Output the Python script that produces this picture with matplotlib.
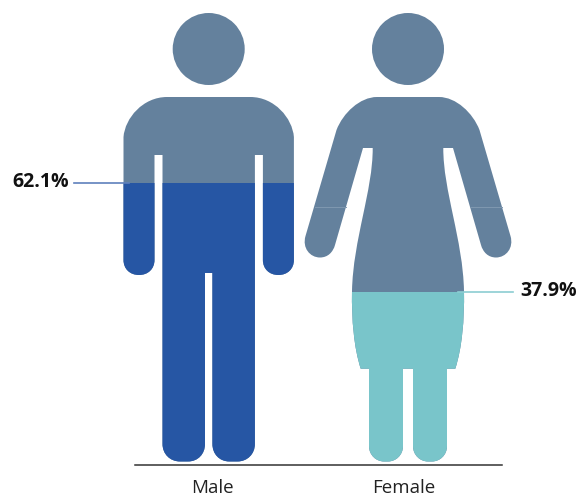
import matplotlib
matplotlib.use('Agg')
import matplotlib.pyplot as plt
from matplotlib.path import Path
from matplotlib.patches import PathPatch, Circle, Rectangle

plt.rcParams['font.family'] = ['Open Sans', 'DejaVu Sans']

categories = ['Male', 'Female']
shares = [62.1, 37.9]
share_labels = ['62.1%', '37.9%']

grey_blue = '#64819D'
fill_colors = ['#2656A4', '#79C5CA']
line_colors = ['#5F80BC', '#8CCDD2']

# figure height runs from top of head to the feet, in pixels
top_y = 13
feet_y = 461.5
head_r = 36
head_y = 49


def mirror_path(start, segs, cx):
    # segs go down the left half, the right half is the same thing flipped
    verts = [start]
    codes = [Path.MOVETO]
    for s in segs:
        verts.extend(s)
        codes.extend([Path.LINETO] if len(s) == 1 else [Path.CURVE4] * 3)
    pts = [start]
    for s in segs:
        pts.extend(s)
    flipped = [(2 * cx - x, y) for x, y in pts]
    # walk backwards over the segments
    idx = len(flipped) - 1
    for s in reversed(segs):
        n = len(s)
        back = flipped[idx - n:idx]
        verts.extend(back[::-1])
        codes.extend([Path.LINETO] if n == 1 else [Path.CURVE4] * 3)
        idx -= n
    verts.append(start)
    codes.append(Path.CLOSEPOLY)
    return Path(verts, codes)


male_cx = 208.7
male_segs = [
    [(167, 97)],
    [(143, 97), (125, 118), (123.5, 137)],
    [(123.5, 260)],
    [(123.5, 269), (130, 275), (139, 275)],
    [(148, 275), (154.5, 269), (154.5, 260)],
    [(154.5, 155)],
    [(162.5, 155)],
    [(162.5, 444)],
    [(162.5, 454), (170, 461.5), (180, 461.5)],
    [(188, 461.5)],
    [(198, 461.5), (205, 454), (205, 444)],
    [(205, 273)],
    [(male_cx, 273)],
]
male_path = mirror_path((male_cx, 97), male_segs, male_cx)

female_cx = 408
female_segs = [
    [(377, 97)],
    [(360, 97), (343, 113), (336.5, 130)],
    [(305.5, 236)],
    [(302, 248), (310, 257.5), (320, 257.5)],
    [(328, 257.5), (333, 252), (335, 245)],
    [(363, 148)],
    [(372.7, 148)],
    [(373, 190), (353, 240), (352, 291)],
    [(351.5, 320), (354, 348), (360.7, 368.7)],
    [(369, 368.7)],
    [(369, 446)],
    [(369, 455), (376, 461.5), (384, 461.5)],
    [(388, 461.5)],
    [(396, 461.5), (403, 455), (403, 446)],
    [(403, 368.7)],
    [(female_cx, 368.7)],
]
female_path = mirror_path((female_cx, 97), female_segs, female_cx)

people = [(male_cx, male_path), (female_cx, female_path)]

fig = plt.figure(figsize=(5.76, 4.97), dpi=100)
ax = fig.add_axes([0, 0, 1, 1])
ax.set_xlim(0, 576)
ax.set_ylim(497, 0)
ax.axis('off')

for (cx, body), share, color in zip(people, shares, fill_colors):
    level = feet_y - share / 100 * (feet_y - top_y)
    ax.add_patch(Circle((cx, head_y), head_r, fc=grey_blue, ec='none'))
    ax.add_patch(PathPatch(body, fc=grey_blue, ec='none'))
    part = PathPatch(body, fc=color, ec='none')
    ax.add_patch(part)
    part.set_clip_path(Rectangle((0, level), 576, feet_y - level + 1,
                                 transform=ax.transData))

# faint seam across the female forearms
ax.plot([315, 346], [207, 207], color='#7F98B0', lw=0.7)
ax.plot([470, 501.5], [207, 207], color='#7F98B0', lw=0.7)

# leader lines and value labels
male_level = feet_y - shares[0] / 100 * (feet_y - top_y)
female_level = feet_y - shares[1] / 100 * (feet_y - top_y)
ax.plot([74, 129], [male_level, male_level], color=line_colors[0], lw=1.2)
ax.plot([458, 513], [female_level, female_level], color=line_colors[1], lw=1.2)
ax.text(12, male_level - 0.5, share_labels[0], fontsize=14, fontweight='bold',
        color='#111111', ha='left', va='center')
ax.text(520, female_level - 0.5, share_labels[1], fontsize=14, fontweight='bold',
        color='#111111', ha='left', va='center')

# baseline and category names
ax.plot([134.7, 501.7], [464.7, 464.7], color='#333333', lw=1.1)
ax.text(212, 488, categories[0], fontsize=13.5, color='#222222', ha='center', va='center')
ax.text(404, 488, categories[1], fontsize=13.5, color='#222222', ha='center', va='center')

plt.savefig('out.png', dpi=100)
